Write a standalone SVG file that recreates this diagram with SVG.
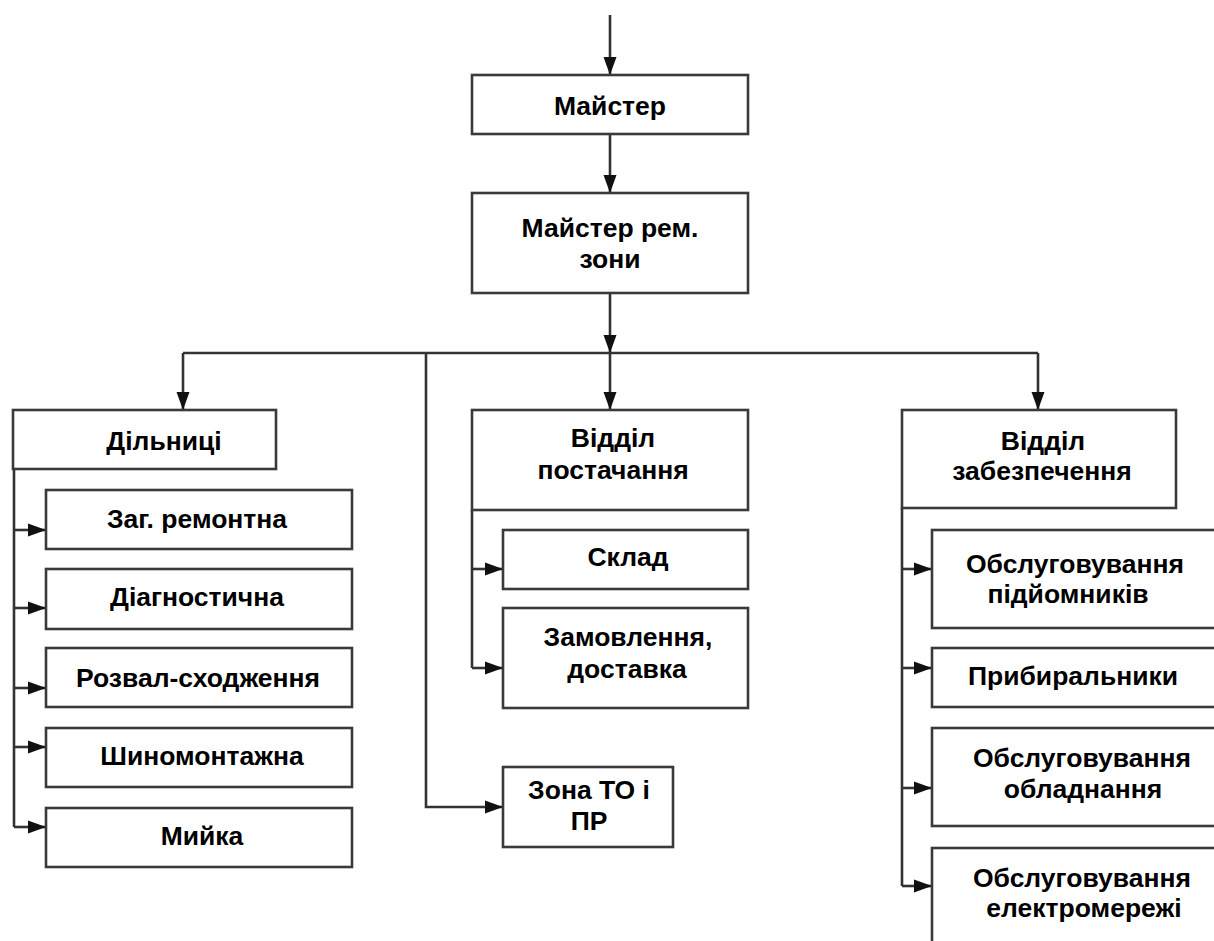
<svg xmlns="http://www.w3.org/2000/svg" width="1214" height="941" viewBox="0 0 1214 941">
<defs>
<marker id="ah" markerUnits="userSpaceOnUse" markerWidth="19" markerHeight="16" refX="18" refY="8" orient="auto">
<path d="M0,1.5 L18,8 L0,14.5 z" fill="#111"/>
</marker>
<style>
.box{fill:#fff;stroke:#3a3a3a;stroke-width:2.6}
.ln{fill:none;stroke:#333;stroke-width:2.6}
.ar{fill:none;stroke:#333;stroke-width:2.6;marker-end:url(#ah)}
text{font-family:"Liberation Sans",Arial,sans-serif;font-weight:bold;font-size:26.5px;fill:#000;text-anchor:middle}
</style>
</defs>
<rect width="1214" height="941" fill="#fff"/>
<g id="connectors">
<line class="ar" x1="610" y1="15" x2="610" y2="75"/>
<line class="ar" x1="610" y1="134" x2="610" y2="193"/>
<line class="ar" x1="610" y1="293" x2="610" y2="353"/>
<polyline class="ln" points="183,353 1038,353"/>
<polyline class="ar" points="183,353 183,410"/>
<polyline class="ar" points="610,353 610,410"/>
<polyline class="ar" points="1038,353 1038,410"/>
<polyline class="ln" points="14,469 14,827"/>
<line class="ar" x1="14" y1="530" x2="46" y2="530"/>
<line class="ar" x1="14" y1="608" x2="46" y2="608"/>
<line class="ar" x1="14" y1="688" x2="46" y2="688"/>
<line class="ar" x1="14" y1="747" x2="46" y2="747"/>
<line class="ar" x1="14" y1="827" x2="46" y2="827"/>
<polyline class="ar" points="426,353 426,807 503,807"/>
<polyline class="ln" points="472,510 472,668"/>
<line class="ar" x1="472" y1="569" x2="503" y2="569"/>
<line class="ar" x1="472" y1="668" x2="503" y2="668"/>
<polyline class="ln" points="902,508 902,886"/>
<line class="ar" x1="902" y1="569" x2="932" y2="569"/>
<line class="ar" x1="902" y1="668" x2="932" y2="668"/>
<line class="ar" x1="902" y1="788" x2="932" y2="788"/>
<line class="ar" x1="902" y1="886" x2="932" y2="886"/>
</g>
<g id="n-master"><rect class="box" x="472" y="75" width="276" height="59"/><text x="610" y="115">Майстер</text></g>
<g id="n-master-rem"><rect class="box" x="472" y="193" width="276" height="100"/><text x="610" y="237">Майстер рем.</text><text x="610" y="268">зони</text></g>
<g id="n-dilnytsi"><rect class="box" x="13" y="410" width="263" height="59"/><text x="164" y="450">Дільниці</text></g>
<g id="n-zag"><rect class="box" x="46" y="490" width="306" height="59"/><text x="197" y="528">Заг. ремонтна</text></g>
<g id="n-diag"><rect class="box" x="46" y="569" width="306" height="60"/><text x="197" y="606">Діагностична</text></g>
<g id="n-rozval"><rect class="box" x="46" y="648" width="306" height="59"/><text x="198" y="687">Розвал-сходження</text></g>
<g id="n-shyno"><rect class="box" x="46" y="728" width="306" height="59"/><text x="202" y="765">Шиномонтажна</text></g>
<g id="n-myika"><rect class="box" x="46" y="808" width="306" height="59"/><text x="202" y="845">Мийка</text></g>
<g id="n-postach"><rect class="box" x="472" y="410" width="276" height="100"/><text x="613" y="447">Відділ</text><text x="613" y="479">постачання</text></g>
<g id="n-sklad"><rect class="box" x="503" y="530" width="245" height="59"/><text x="628" y="566">Склад</text></g>
<g id="n-zamov"><rect class="box" x="503" y="608" width="245" height="100"/><text x="628" y="646">Замовлення,</text><text x="627" y="678">доставка</text></g>
<g id="n-zona"><rect class="box" x="503" y="767" width="170" height="80"/><text x="589" y="799">Зона ТО і</text><text x="589" y="830">ПР</text></g>
<g id="n-zabezp"><rect class="box" x="902" y="410" width="274" height="98"/><text x="1043" y="450">Відділ</text><text x="1042" y="480">забезпечення</text></g>
<g id="n-pidiom"><rect class="box" x="932" y="530" width="300" height="98"/><text x="1075" y="573">Обслуговування</text><text x="1068" y="603">підйомників</text></g>
<g id="n-prybyr"><rect class="box" x="932" y="648" width="300" height="59"/><text x="1073" y="685">Прибиральники</text></g>
<g id="n-obladn"><rect class="box" x="932" y="728" width="300" height="98"/><text x="1082" y="767">Обслуговування</text><text x="1083" y="798">обладнання</text></g>
<g id="n-elektro"><rect class="box" x="932" y="848" width="300" height="120"/><text x="1082" y="887">Обслуговування</text><text x="1084" y="917">електромережі</text></g>
</svg>
